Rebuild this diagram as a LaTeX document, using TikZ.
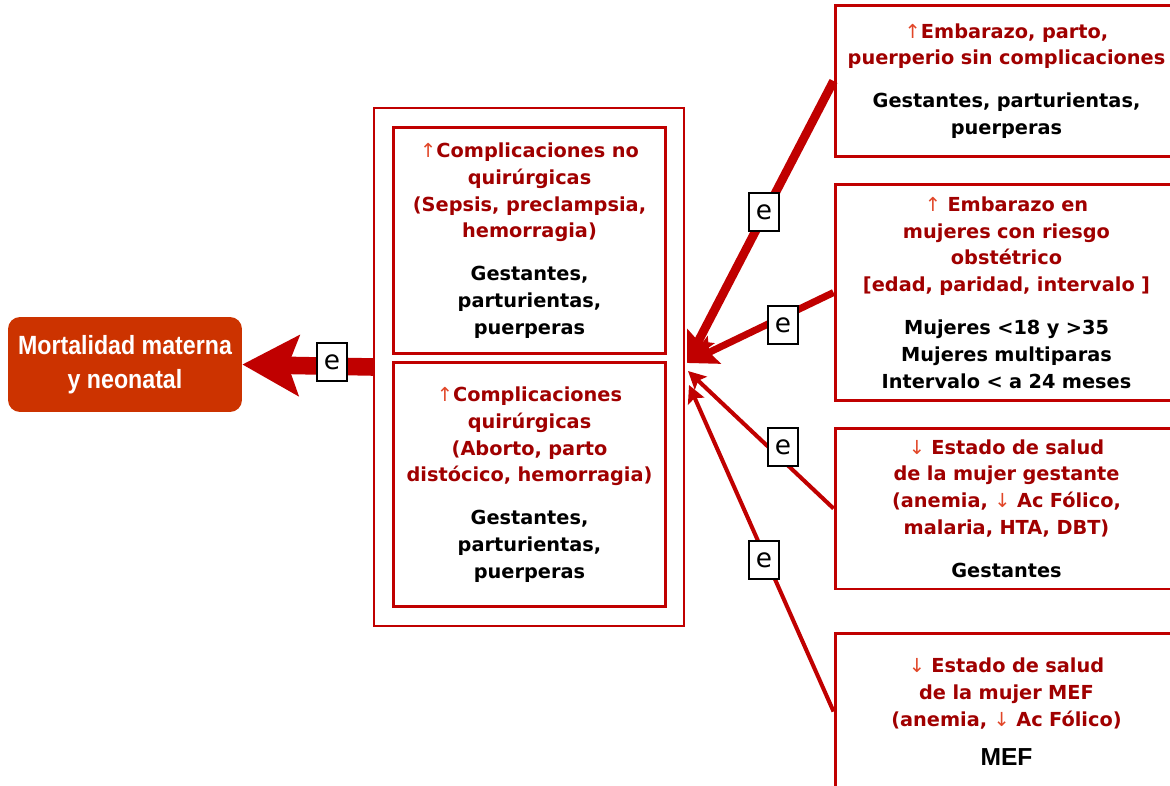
\documentclass[tikz,border=0pt]{standalone}
\usepackage{fontspec}
\setmainfont{DejaVu Sans}
\newfontfamily\arialfont{Liberation Sans}
\newfontfamily\mortfont[FakeStretch=0.88]{Liberation Sans}
\usetikzlibrary{positioning, arrows.meta}
\definecolor{boxred}{RGB}{192,0,0}
\definecolor{txtred}{RGB}{160,0,0}
\definecolor{arrred}{RGB}{225,70,40}
\definecolor{mortfill}{RGB}{204,51,0}
\newcommand{\up}{\textcolor{arrred}{\normalfont ↑}}
\newcommand{\dn}{\textcolor{arrred}{\normalfont ↓}}

\begin{document}
\begin{tikzpicture}[x=0.02cm, y=-0.02cm,
  mortbox/.style={rectangle, rounded corners=0.24cm, fill=mortfill, text=white,
    minimum width=4.68cm, minimum height=1.9cm, align=center,
    font=\mortfont\bfseries\fontsize{15}{19}\selectfont},
  outerbox/.style={rectangle, draw=boxred, line width=1.1pt,
    minimum width=6.2cm, minimum height=10.36cm},
  cbox/.style={rectangle, draw=boxred, line width=1.7pt, inner sep=0pt, align=center,
    font=\bfseries\fontsize{11}{15.3}\selectfont},
  innerbox/.style={cbox, minimum width=5.46cm, text width=5.3cm},
  rbox/.style={cbox, minimum width=6.86cm, text width=6.6cm},
  elbl/.style={rectangle, draw=black, line width=1.1pt, fill=white, inner sep=0pt,
    minimum width=0.6cm, minimum height=0.76cm, font=\fontsize{15}{15}\selectfont},
  bigarrow/.style={boxred, line width=10pt, -{Stealth[length=32pt, width=34pt, inset=6pt]}},
  thickarrow/.style={boxred, line width=#1, -{Stealth[length=17pt, width=17pt, inset=3pt]}},
  thinarrow/.style={boxred, line width=2.3pt, -{Stealth[length=10pt, width=10pt, inset=2pt]}}]
  \useasboundingbox (0,0) rectangle (1170,785);
  % left result
  \node[mortbox] (mort) at (125,364.5) {Mortalidad materna\\y neonatal};
  % middle group
  \node[outerbox] (outer) at (529,367) {};
  \node[innerbox, minimum height=4.54cm] (noquir) at (529.5,240.5)
    {\color{txtred}\up Complicaciones no\\ quirúrgicas\\ (Sepsis, preclampsia,\\ hemorragia)\\[9pt]
     \color{black}Gestantes,\\ parturientas,\\ puerperas};
  \node[innerbox, minimum height=4.9cm] (quir) at (529.5,484.5)
    {\color{txtred}\up Complicaciones\\ quirúrgicas\\ (Aborto, parto\\ distócico, hemorragia)\\[9pt]
     \color{black}Gestantes,\\ parturientas,\\ puerperas};
  % right causes
  \node[rbox, minimum height=3.04cm] (sincomp) at (1006.5,81)
    {\color{txtred}\up Embarazo, parto,\\ puerperio sin complicaciones\\[9pt]
     \color{black}Gestantes, parturientas,\\ puerperas};
  \node[rbox, minimum height=4.34cm] (riesgo) at (1006.5,292.5)
    {\color{txtred}\up\ Embarazo en\\ mujeres con riesgo\\ obstétrico\\ {[edad, paridad, intervalo ]}\\[9pt]
     \color{black}Mujeres <18 y >35\\ Mujeres multiparas\\ Intervalo < a 24 meses};
  \node[rbox, minimum height=3.22cm] (gestante) at (1006.5,508.5)
    {\color{txtred}\dn\ Estado de salud\\ de la mujer gestante\\ (anemia, \dn\ Ac Fólico,\\ malaria, HTA, DBT)\\[9pt]
     \color{black}Gestantes};
  \node[rbox, minimum height=3.14cm] (mef) at (1006.5,711.5)
    {\color{txtred}\dn\ Estado de salud\\ de la mujer MEF\\ (anemia, \dn\ Ac Fólico)\\[7pt]
     \color{black}{\arialfont\bfseries\fontsize{14}{15}\selectfont MEF}};
  % arrow ends on the group
  \coordinate (tipA) at (687,363);
  \coordinate (tipB) at (688,371);
  \coordinate (tipC) at (689,385);
  \draw[thickarrow=5pt] (sincomp.west) -- (tipA);
  \draw[thickarrow=4pt] (riesgo.west) -- (tipA);
  \draw[thinarrow] (gestante.west) -- (tipB);
  \draw[thinarrow] (mef.west) -- (tipC);
  \draw[bigarrow] (outer.west) -- (mort.east);
  % labels
  \foreach \x/\y/\n in {332/362/e0, 764/212/e1, 783/325/e2, 783/447/e3, 764/560/e4}
    \node[elbl] (\n) at (\x,\y) {e};
\end{tikzpicture}
\end{document}
